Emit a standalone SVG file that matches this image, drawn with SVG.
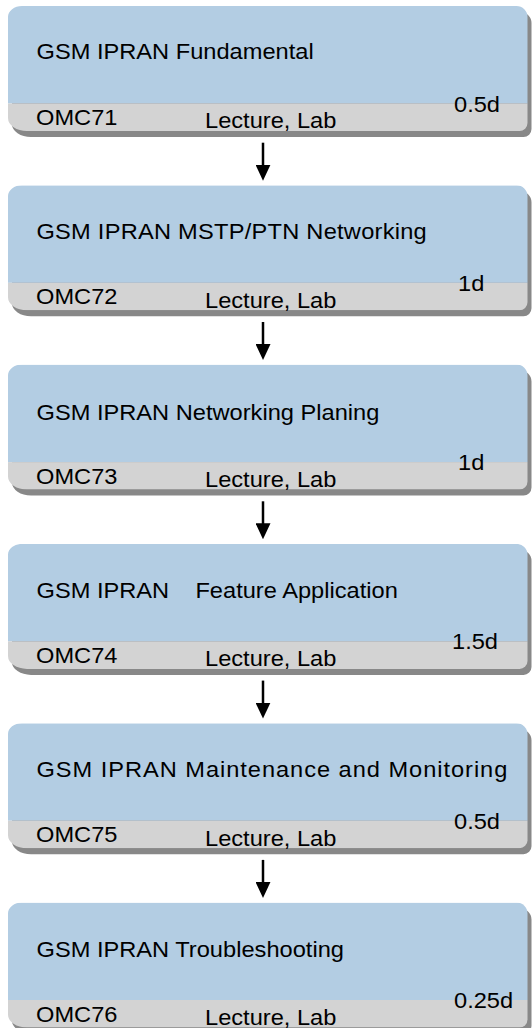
<svg xmlns="http://www.w3.org/2000/svg" xmlns:xlink="http://www.w3.org/1999/xlink" width="532" height="1028" viewBox="0 0 532 1028">
  <style>
    .t { font-family: "Liberation Sans", Arial, sans-serif; font-size: 22px; fill: #000; white-space: pre; }
    .shadow { fill: #888888; }
    .top { fill: #B3CDE3; }
    .band { fill: #D3D3D3; }
    .conn { stroke: #000; stroke-width: 2.5; fill: none; }
  </style>
  <defs>
    <!-- course card outline, local coordinates (card top at y=0) -->
    <path id="card" d="M22,0 H516.5 A11,11 0 0 1 527.5,11 V117 A8,8 0 0 1 519.5,125 H27 A19,13 0 0 1 8,112 V10.7 A14,10.7 0 0 1 22,0 Z"/>
    <clipPath id="cardClip">
      <use xlink:href="#card"/>
    </clipPath>
    <marker id="head" viewBox="0 0 16 15" refX="6" refY="7.5" markerWidth="16" markerHeight="15" markerUnits="userSpaceOnUse" orient="auto">
      <path d="M0,0 L16,7.5 L0,15 Z" fill="#000"/>
    </marker>
    <!-- one card body: shadow, blue header area, grey footer band -->
    <g id="cardBody">
      <use xlink:href="#card" class="shadow" transform="translate(4,6)"/>
      <g clip-path="url(#cardClip)">
        <rect class="top" x="0" y="0" width="532" height="97.5"/>
        <rect class="band" x="0" y="97.5" width="532" height="30"/>
      </g>
    </g>
  </defs>

  <g id="connectors">
    <line class="conn" x1="263" y1="142.7" x2="263" y2="170.7" marker-end="url(#head)"/>
    <line class="conn" x1="263" y1="322" x2="263" y2="350" marker-end="url(#head)"/>
    <line class="conn" x1="263" y1="501.3" x2="263" y2="529.3" marker-end="url(#head)"/>
    <line class="conn" x1="263" y1="680.6" x2="263" y2="708.6" marker-end="url(#head)"/>
    <line class="conn" x1="263" y1="859.9" x2="263" y2="887.9" marker-end="url(#head)"/>
  </g>

  <g id="omc71" transform="translate(0,6)">
    <use xlink:href="#cardBody"/>
    <text class="t" transform="translate(36.5,52.5) scale(1.075,1)">GSM IPRAN Fundamental</text>
    <text class="t" transform="translate(454,105.5) scale(1.075,1)">0.5d</text>
    <text class="t" transform="translate(36,119) scale(1.075,1)">OMC71</text>
    <text class="t" transform="translate(205,122.3) scale(1.075,1)">Lecture, Lab</text>
  </g>

  <g id="omc72" transform="translate(0,185.3)">
    <use xlink:href="#cardBody"/>
    <text class="t" transform="translate(36.5,54) scale(1.075,1)" textLength="363" lengthAdjust="spacing">GSM IPRAN MSTP/PTN Networking</text>
    <text class="t" transform="translate(458,105.5) scale(1.075,1)">1d</text>
    <text class="t" transform="translate(36,119) scale(1.075,1)">OMC72</text>
    <text class="t" transform="translate(205,122.3) scale(1.075,1)">Lecture, Lab</text>
  </g>

  <g id="omc73" transform="translate(0,364.6)">
    <use xlink:href="#cardBody"/>
    <text class="t" transform="translate(36.5,55.5) scale(1.075,1)">GSM IPRAN Networking Planing</text>
    <text class="t" transform="translate(458,105.5) scale(1.075,1)">1d</text>
    <text class="t" transform="translate(36,119) scale(1.075,1)">OMC73</text>
    <text class="t" transform="translate(205,122.3) scale(1.075,1)">Lecture, Lab</text>
  </g>

  <g id="omc74" transform="translate(0,543.9)">
    <use xlink:href="#cardBody"/>
    <text class="t" xml:space="preserve" transform="translate(36.5,54) scale(1.075,1)">GSM IPRAN    Feature Application</text>
    <text class="t" transform="translate(452,105.5) scale(1.075,1)">1.5d</text>
    <text class="t" transform="translate(36,119) scale(1.075,1)">OMC74</text>
    <text class="t" transform="translate(205,122.3) scale(1.075,1)">Lecture, Lab</text>
  </g>

  <g id="omc75" transform="translate(0,723.2)">
    <use xlink:href="#cardBody"/>
    <text class="t" transform="translate(36.5,54) scale(1.075,1)" textLength="438" lengthAdjust="spacing">GSM IPRAN Maintenance and Monitoring</text>
    <text class="t" transform="translate(454,105.5) scale(1.075,1)">0.5d</text>
    <text class="t" transform="translate(36,119) scale(1.075,1)">OMC75</text>
    <text class="t" transform="translate(205,122.3) scale(1.075,1)">Lecture, Lab</text>
  </g>

  <g id="omc76" transform="translate(0,902.5)">
    <use xlink:href="#cardBody"/>
    <text class="t" transform="translate(36.5,54.5) scale(1.075,1)">GSM IPRAN Troubleshooting</text>
    <text class="t" transform="translate(454,105.5) scale(1.075,1)">0.25d</text>
    <text class="t" transform="translate(36,119) scale(1.075,1)">OMC76</text>
    <text class="t" transform="translate(205,122.3) scale(1.075,1)">Lecture, Lab</text>
  </g>
</svg>
